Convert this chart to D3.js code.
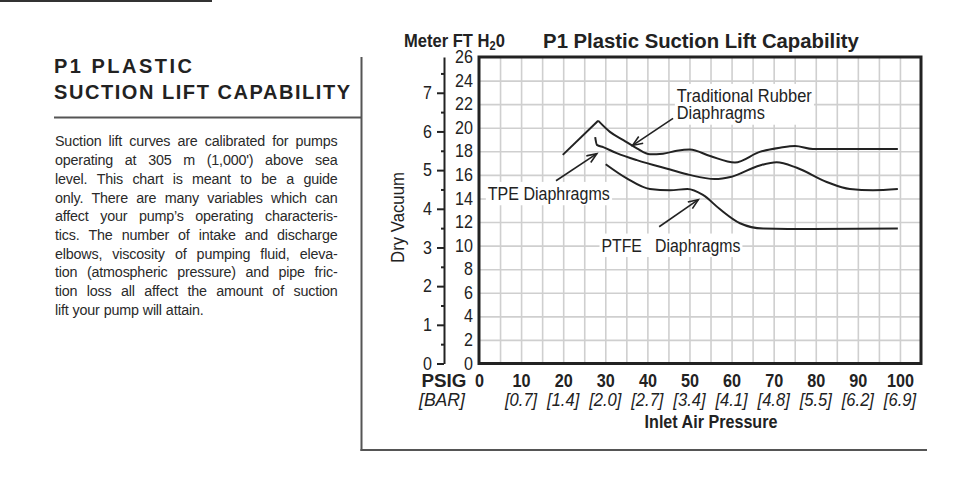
<!DOCTYPE html>
<html><head><meta charset="utf-8">
<script src="https://cdn.jsdelivr.net/npm/d3@7"></script>
<style>
html,body{margin:0;padding:0;background:#fff;}
svg{display:block;}
</style></head>
<body>
<script>
// ---------- DATA ----------
const psiTicks = [0,10,20,30,40,50,60,70,80,90,100];
const barLabels = ["","[0.7]","[1.4]","[2.0]","[2.7]","[3.4]","[4.1]","[4.8]","[5.5]","[6.2]","[6.9]"];
const ftTicks = [0,2,4,6,8,10,12,14,16,18,20,22,24,26];
const meterTicks = [0,1,2,3,4,5,6,7];
const meterMinorTicks = [0.5,1.5,2.5,3.5,4.5,5.5,6.5,7.5];
const gridPsi = [5,10,15,20,25,30,35,40,45,50,55,60,65,70,75,80,85,90,95,100];
const gridFt = [2,4,6,8,10,12,14,16,18,20,22,24];

// Traditional rubber: rising straight segment then curve
const rubberRisePsi = [19.9, 28.3];
const rubberRiseFt  = [17.7, 20.6];
const rubberPsi = [28.3,31.1,34.3,37.5,40.6,43.7,47.0,50.1,54.9,60.8,66.7,71.5,75.1,79.3,99.5];
const rubberFt  = [20.6,19.65,18.95,18.25,17.75,17.8,18.05,18.15,17.6,17.05,17.95,18.3,18.45,18.2,18.2];
// TPE
const tpePsi = [27.6,28.0,29.5,32.7,37.5,45.4,50.0,56.0,60.0,66.7,70.7,75.5,82.6,88.1,93.6,99.5];
const tpeFt  = [19.2,18.55,18.35,17.85,17.25,16.45,16.0,15.65,15.85,16.8,17.07,16.6,15.4,14.8,14.7,14.8];
// PTFE
const ptfePsi = [30.1,35.1,40.6,45.4,49.5,53.2,57.2,62.0,67.5,79.3,99.5];
const ptfeFt  = [16.9,15.7,14.8,14.7,14.8,14.3,13.1,11.9,11.45,11.4,11.45];

const paragraph = [
 "Suction lift curves are calibrated for pumps",
 "operating at 305 m (1,000') above sea",
 "level. This chart is meant to be a guide",
 "only. There are many variables which can",
 "affect your pump\u2019s operating characteris-",
 "tics. The number of intake and discharge",
 "elbows, viscosity of pumping fluid, eleva-",
 "tion (atmospheric pressure) and pipe fric-",
 "tion loss all affect the amount of suction",
 "lift your pump will attain."
];

// ---------- LAYOUT ----------
const W = 968, H = 485;
const SANS = "'Liberation Sans',Arial,Helvetica,sans-serif";
const ink = "#222";

const svg = d3.select("body").append("svg").attr("width", W).attr("height", H);

// horizontally condense a text about its x anchor
function squeeze(node, f, extra) {
  const x = +node.getAttribute("x") || 0;
  node.setAttribute("transform", (extra||"") + `translate(${x},0) scale(${f},1) translate(${-x},0)`);
}
function fitWidth(node, target, extra) {
  const w = node.getComputedTextLength();
  const f = target / w;
  squeeze(node, f, extra);
  return f;
}

// left panel rules
svg.append("line").attr("x1",0).attr("x2",212).attr("y1",1).attr("y2",1).attr("stroke","#333").attr("stroke-width",2);
svg.append("line").attr("x1",54).attr("x2",362).attr("y1",117.5).attr("y2",117.5).attr("stroke","#555").attr("stroke-width",2);
svg.append("line").attr("x1",361.5).attr("x2",361.5).attr("y1",57).attr("y2",451).attr("stroke","#555").attr("stroke-width",2);
svg.append("line").attr("x1",360.5).attr("x2",927).attr("y1",450).attr("y2",450).attr("stroke","#555").attr("stroke-width",2);

// heading
[["P1 PLASTIC",72.7,138],["SUCTION LIFT CAPABILITY",99.3,296]].forEach(([t,yb,w])=>{
  svg.append("text").attr("x",54).attr("y",yb).text(t)
    .attr("font-family",SANS).attr("font-weight","bold").attr("font-size",20)
    .attr("fill","#222").attr("textLength",w).attr("lengthAdjust","spacing");
});

// paragraph, justified, slightly condensed
const pX0 = 55, pX1 = 337.5, pF = 0.93;
paragraph.forEach((ln,i)=>{
  const yb = 146.5 + i*18.7;
  const words = ln.split(" ");
  const t = svg.append("text").attr("x",pX0).attr("y",yb).attr("font-family",SANS).attr("font-size",15.4)
    .attr("letter-spacing","-0.2").attr("fill","#2a2a2a");
  const spans = words.map(w=>t.append("tspan").text(w));
  const widths = spans.map(s=>s.node().getComputedTextLength());
  const total = d3.sum(widths);
  const span = (pX1-pX0)/pF;
  let gap = (span-total)/(words.length-1);
  if (i===paragraph.length-1) gap = 4.3;
  let cx = pX0;
  spans.forEach((s,j)=>{ s.attr("x",cx); cx += widths[j]+gap; });
  squeeze(t.node(), pF);
});

// ---------- CHART ----------
const x = d3.scaleLinear().domain([0,105]).range([479,921]);
const y = d3.scaleLinear().domain([0,26]).range([363.5,57]);
const yM = d3.scaleLinear().domain([0,26*0.3048]).range([363.5,57]);

// grid
const gridG = svg.append("g");
gridG.append("g").attr("transform",`translate(0,${y(0)})`)
  .call(d3.axisBottom(x).tickValues(gridPsi).tickSize(-(y(0)-y(26))).tickFormat(""))
  .call(g=>g.select(".domain").remove())
  .call(g=>g.selectAll("line").attr("stroke","#cfcfcf").attr("stroke-width",1.6));
gridG.append("g").attr("transform",`translate(${x(0)},0)`)
  .call(d3.axisLeft(y).tickValues(gridFt).tickSize(-(x(105)-x(0))).tickFormat(""))
  .call(g=>g.select(".domain").remove())
  .call(g=>g.selectAll("line").attr("stroke","#cfcfcf").attr("stroke-width",1.6));

// curves
const lineLin = d3.line().x(d=>x(d[0])).y(d=>y(d[1]));
const lineCurve = d3.line().x(d=>x(d[0])).y(d=>y(d[1])).curve(d3.curveMonotoneX);
const zipPts = (a,b)=>a.map((v,i)=>[v,b[i]]);
const curveG = svg.append("g").attr("fill","none").attr("stroke",ink).attr("stroke-width",2).attr("stroke-linejoin","miter");
curveG.append("path").attr("d",lineLin(zipPts(rubberRisePsi,rubberRiseFt)));
curveG.append("path").attr("d",lineCurve(zipPts(rubberPsi,rubberFt)));
curveG.append("path").attr("d",lineCurve(zipPts(tpePsi,tpeFt)));
curveG.append("path").attr("d",lineCurve(zipPts(ptfePsi,ptfeFt)));

// plot frame
svg.append("rect").attr("x",x(0)).attr("y",y(26)).attr("width",x(105)-x(0)).attr("height",y(0)-y(26))
  .attr("fill","none").attr("stroke",ink).attr("stroke-width",3);

// annotations
svg.append("defs").append("marker").attr("id","arr").attr("markerUnits","userSpaceOnUse")
  .attr("markerWidth",14).attr("markerHeight",12).attr("refX",11).attr("refY",5).attr("orient","auto")
  .append("path").attr("d","M1,1 L11,5 L1,9").attr("fill","none").attr("stroke",ink).attr("stroke-width",1.6);

const annotations = [
  {lines:["Traditional Rubber","Diaphragms"], widths:[135,88], psi:47.0, ft:[22.2,20.7], from:[46.1,20.8], to:[36.5,18.5]},
  {lines:["TPE Diaphragms"], widths:[122], psi:2.1, ft:[13.87], from:[18.3,15.5], to:[28.0,17.8]},
  {lines:["PTFE\u00A0\u00A0 Diaphragms"], widths:[139], psi:29.1, ft:[9.48], from:[42.8,11.6], to:[52.1,13.9]}
];
annotations.forEach(a=>{
  const g = svg.append("g");
  const bg = g.append("rect").attr("fill","#fff");
  const ax = x(a.psi);
  const texts = a.lines.map((l,i)=>g.append("text").attr("x",ax).attr("y",y(a.ft[i])).text(l)
      .attr("font-family",SANS).attr("font-size",18.5).attr("fill",ink));
  const fs = texts.map((t,i)=>fitWidth(t.node(), a.widths[i]));
  const bbs = texts.map((t,i)=>{ const b=t.node().getBBox(); return {x:ax+(b.x-ax)*fs[i], y:b.y, width:b.width*fs[i], height:b.height}; });
  const x0 = d3.min(bbs,b=>b.x)-2, x1 = d3.max(bbs,b=>b.x+b.width)+2;
  const y0 = d3.min(bbs,b=>b.y)-1, y1 = d3.max(bbs,b=>b.y+b.height)+1;
  bg.attr("x",x0).attr("y",y0).attr("width",x1-x0).attr("height",y1-y0);
  svg.append("line").attr("x1",x(a.from[0])).attr("y1",y(a.from[1])).attr("x2",x(a.to[0])).attr("y2",y(a.to[1]))
    .attr("stroke",ink).attr("stroke-width",1.6).attr("marker-end","url(#arr)");
});

// ft axis
svg.append("g").attr("transform",`translate(${x(0)},0)`)
  .call(d3.axisLeft(y).tickValues(ftTicks).tickSize(0).tickPadding(6))
  .call(g=>g.select(".domain").remove())
  .call(g=>g.selectAll("text").attr("font-family",SANS).attr("font-size",17.5).attr("fill",ink)
      .each(function(){ squeeze(this, 0.92); }));

// meter axis
const mAx = 444;
svg.append("g").attr("transform",`translate(${mAx},0)`)
  .call(d3.axisLeft(yM).tickValues(meterTicks).tickSize(7).tickSizeOuter(0).tickPadding(5))
  .call(g=>g.select(".domain").attr("stroke",ink).attr("stroke-width",2))
  .call(g=>g.selectAll("line").attr("stroke",ink).attr("stroke-width",2))
  .call(g=>g.selectAll("text").attr("font-family",SANS).attr("font-size",17.5).attr("fill",ink)
      .each(function(){ squeeze(this, 0.92); }));
svg.append("g").attr("transform",`translate(${mAx},0)`)
  .call(d3.axisLeft(yM).tickValues(meterMinorTicks).tickSize(3).tickSizeOuter(0).tickFormat(""))
  .call(g=>g.select(".domain").remove())
  .call(g=>g.selectAll("line").attr("stroke",ink).attr("stroke-width",2));

// Dry Vacuum
const dv = svg.append("text").attr("text-anchor","middle")
  .text("Dry Vacuum").attr("font-family",SANS).attr("font-size",19).attr("fill",ink);
fitWidth(dv.node(), 91, "translate(404,217.5) rotate(-90) ");

// x axis numbers
svg.append("g").attr("transform",`translate(0,${y(0)})`)
  .call(d3.axisBottom(x).tickValues(psiTicks).tickSize(0).tickFormat(d=>d))
  .call(g=>g.select(".domain").remove())
  .call(g=>g.selectAll("text").attr("y",387-y(0)).attr("dy",null)
      .attr("font-family",SANS).attr("font-weight","bold").attr("font-size",18).attr("fill",ink)
      .each(function(){ squeeze(this, 0.9); }));
// bar labels
svg.append("g").selectAll("text").data(psiTicks).join("text")
  .attr("x",d=>x(d)).attr("y",406).attr("text-anchor","middle")
  .text((d,i)=>barLabels[i])
  .attr("font-family",SANS).attr("font-style","italic").attr("font-size",18).attr("fill",ink)
  .each(function(){ squeeze(this, 0.92); });

const psig = svg.append("text").attr("x",421.5).attr("y",387).text("PSIG")
  .attr("font-family",SANS).attr("font-weight","bold").attr("font-size",18).attr("fill",ink);
fitWidth(psig.node(), 45);
const bar = svg.append("text").attr("x",419).attr("y",406).text("[BAR]")
  .attr("font-family",SANS).attr("font-style","italic").attr("font-size",18).attr("fill",ink);
fitWidth(bar.node(), 46);
const inl = svg.append("text").attr("x",711).attr("y",428).attr("text-anchor","middle").text("Inlet Air Pressure")
  .attr("font-family",SANS).attr("font-weight","bold").attr("font-size",18).attr("fill",ink);
fitWidth(inl.node(), 133);

// titles
const ttl = svg.append("text").attr("x",701).attr("y",48).attr("text-anchor","middle").text("P1 Plastic Suction Lift Capability")
  .attr("font-family",SANS).attr("font-weight","bold").attr("font-size",21).attr("fill",ink);
fitWidth(ttl.node(), 316);
const mt = svg.append("text").attr("x",404).attr("y",47)
  .attr("font-family",SANS).attr("font-weight","bold").attr("font-size",18).attr("fill",ink);
mt.append("tspan").text("Meter FT H");
mt.append("tspan").text("2").attr("font-size",12).attr("dy",3);
mt.append("tspan").text("0").attr("dy",-3);
fitWidth(mt.node(), 101);
</script>
</body></html>
